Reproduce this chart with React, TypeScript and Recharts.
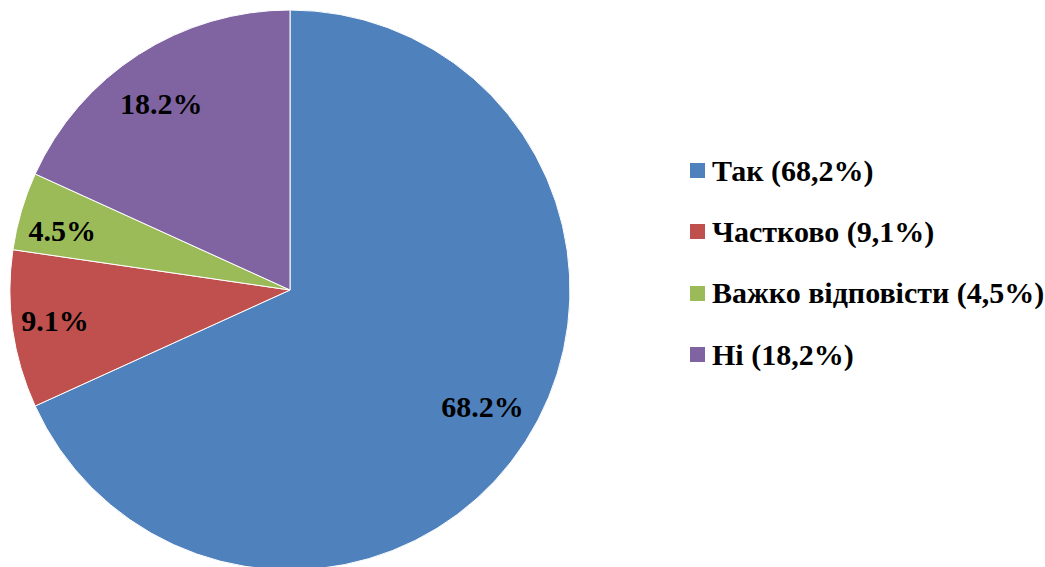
import React from 'react';
import { PieChart, Pie, Cell, Legend } from 'recharts';

const categories = ['Так', 'Частково', 'Важко відповісти', 'Ні'];
const values = [68.2, 9.1, 4.5, 18.2];
const legendLabels = ['Так (68,2%)', 'Частково (9,1%)', 'Важко відповісти (4,5%)', 'Ні (18,2%)'];
const colors = ['#4F81BD', '#C0504D', '#9BBB59', '#8064A2'];

// Excel "best fit" places labels at slightly different depths
const labelDepth = [0.805, 0.848, 0.84, 0.81];
const labelShift = [[3, -5], [0, -3], [-2, 7], [-6, 4]];

const FONT = '"Liberation Serif"';
const RAD = Math.PI / 180;

const data = categories.map((name, i) => ({ name, value: values[i] }));

const renderLabel = (props: any) => {
  const { cx, cy, midAngle, outerRadius, index, value } = props;
  const r = outerRadius * labelDepth[index];
  const x = cx + r * Math.cos(-midAngle * RAD) + labelShift[index][0];
  const y = cy + r * Math.sin(-midAngle * RAD) + labelShift[index][1];
  return (
    <text
      x={x}
      y={y}
      textAnchor="middle"
      dominantBaseline="central"
      fill="#000"
      style={{ fontFamily: FONT, fontWeight: 'bold', fontSize: 30 }}
    >
      {`${value.toFixed(1)}%`}
    </text>
  );
};

const LegendContent = () => (
  <div style={{ fontFamily: FONT, fontWeight: 'bold', fontSize: 30, color: '#000' }}>
    {legendLabels.map((label, i) => (
      <div key={label} style={{ display: 'flex', alignItems: 'center', height: 61.3 }}>
        <span
          style={{
            display: 'inline-block',
            width: 15,
            height: 15,
            background: colors[i],
            marginRight: 7,
          }}
        />
        <span style={{ whiteSpace: 'nowrap' }}>{label}</span>
      </div>
    ))}
  </div>
);

export default function App() {
  return (
    <div style={{ position: 'absolute', left: 0, top: 0, width: 1045, height: 567, background: '#fff' }}>
      <PieChart width={1045} height={567} margin={{ top: 0, right: 0, bottom: 0, left: 0 }}>
        <Pie
          data={data}
          dataKey="value"
          nameKey="name"
          cx={290}
          cy={290}
          outerRadius={280}
          startAngle={90}
          endAngle={-270}
          stroke="#fff"
          strokeWidth={1}
          label={renderLabel}
          labelLine={false}
          isAnimationActive={false}
        >
          {data.map((d, i) => (
            <Cell key={d.name} fill={colors[i]} />
          ))}
        </Pie>
        <Legend
          content={<LegendContent />}
          wrapperStyle={{ left: 690, top: 140, width: 355 }}
        />
      </PieChart>
    </div>
  );
}
